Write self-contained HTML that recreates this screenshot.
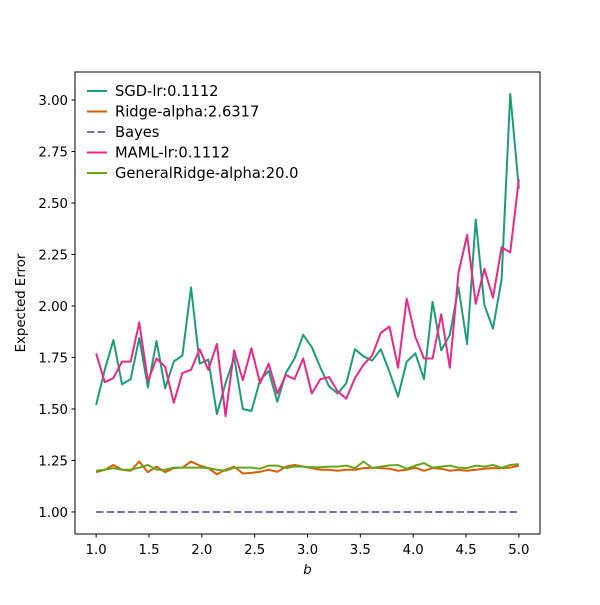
<!DOCTYPE html>
<html><head><meta charset="utf-8"><style>
body{margin:0;background:#fff}
svg text{font-family:"DejaVu Sans","Liberation Sans",sans-serif;font-size:13.3px;fill:#000}
svg text.lg{font-size:14.7px}
</style></head><body>
<svg width="600" height="600" xmlns="http://www.w3.org/2000/svg">
<rect x="0" y="0" width="600" height="600" fill="#fff"/>
<g id="plot"></g>
</svg>
<script>
const xTicks=[1.0,1.5,2.0,2.5,3.0,3.5,4.0,4.5,5.0];
const yTicks=[1.00,1.25,1.50,1.75,2.00,2.25,2.50,2.75,3.00];
const sgd=[1.52,1.69,1.835,1.62,1.645,1.845,1.605,1.83,1.60,1.73,1.76,2.09,1.72,1.74,1.475,1.625,1.75,1.50,1.49,1.64,1.685,1.535,1.675,1.745,1.86,1.80,1.70,1.61,1.575,1.625,1.79,1.755,1.735,1.79,1.68,1.56,1.73,1.77,1.645,2.02,1.785,1.86,2.09,1.815,2.42,2.005,1.89,2.13,3.03,2.57];
const ridge=[1.193,1.205,1.228,1.205,1.20,1.245,1.193,1.22,1.193,1.213,1.215,1.245,1.225,1.213,1.183,1.205,1.22,1.187,1.19,1.195,1.205,1.195,1.22,1.228,1.22,1.213,1.205,1.205,1.20,1.205,1.205,1.213,1.215,1.213,1.21,1.20,1.205,1.215,1.20,1.213,1.21,1.20,1.205,1.20,1.205,1.21,1.213,1.213,1.215,1.225];
const bayes=[1.0,1.0];
const maml=[1.77,1.63,1.65,1.73,1.73,1.92,1.635,1.745,1.705,1.53,1.675,1.69,1.79,1.69,1.815,1.465,1.785,1.64,1.795,1.625,1.72,1.575,1.665,1.645,1.745,1.575,1.645,1.655,1.585,1.55,1.65,1.715,1.76,1.87,1.90,1.70,2.035,1.85,1.745,1.745,1.96,1.70,2.16,2.345,2.01,2.18,2.04,2.285,2.26,2.615];
const gridge=[1.20,1.205,1.213,1.205,1.205,1.215,1.228,1.205,1.205,1.215,1.215,1.215,1.215,1.213,1.205,1.20,1.215,1.215,1.215,1.21,1.225,1.225,1.213,1.22,1.22,1.217,1.217,1.22,1.22,1.225,1.213,1.245,1.213,1.22,1.226,1.228,1.21,1.225,1.237,1.215,1.22,1.225,1.215,1.213,1.225,1.22,1.228,1.215,1.228,1.232];
const labels=["SGD-lr:0.1112","Ridge-alpha:2.6317","Bayes","MAML-lr:0.1112","GeneralRidge-alpha:20.0"];

const L=75,R=540,T=72,B=534;
const xMin=0.8,xMax=5.2,yMin=0.893,yMax=3.136;
const X=v=>L+(v-xMin)/(xMax-xMin)*(R-L);
const Y=v=>B-(v-yMin)/(yMax-yMin)*(B-T);
const NS="http://www.w3.org/2000/svg";
const g=document.getElementById('plot');
function mk(t,a,p){const e=document.createElementNS(NS,t);for(const k in a)e.setAttribute(k,a[k]);(p||g).appendChild(e);return e;}
const xs=n=>Array.from({length:n},(_,i)=>1+4*i/(n-1));

function series(vals,color,name,dash){
  const xv=xs(vals.length);
  const e=mk('polyline',{points:vals.map((v,i)=>X(xv[i]).toFixed(2)+','+Y(v).toFixed(2)).join(' '),fill:'none',stroke:color,'stroke-width':2,'stroke-linejoin':'round'});
  if(dash)e.setAttribute('stroke-dasharray',dash);
  
  
}
series(sgd,'#1b9e77','sgd-line');
series(ridge,'#d95f02','ridge-line');
series(bayes,'#7570b3','bayes-line','7.4,3.2');
series(maml,'#e7298a','maml-line');
series(gridge,'#66a61e','general-ridge-line');

const frame=mk('rect',{x:L,y:T,width:R-L,height:B-T,fill:'none',stroke:'#000','stroke-width':1});



xTicks.forEach(v=>{
  mk('line',{x1:X(v),x2:X(v),y1:B,y2:B+3.5,stroke:'#000'});
  const t=mk('text',{x:X(v),y:B+20,'text-anchor':'middle'});t.textContent=v.toFixed(1);
  
  
});
yTicks.forEach(v=>{
  mk('line',{x1:L-3.5,x2:L,y1:Y(v),y2:Y(v),stroke:'#000'});
  const t=mk('text',{x:L-7,y:Y(v)+5,'text-anchor':'end'});t.textContent=v.toFixed(2);
  
  
});
const xl=mk('text',{x:(L+R)/2,y:574,'text-anchor':'middle','font-style':'italic'});xl.textContent='b';


const yl=mk('text',{x:0,y:0,'text-anchor':'middle',transform:'translate(25,'+((T+B)/2)+') rotate(-90)'});yl.textContent='Expected Error';



const lg=mk('g',{});


const cols=['#1b9e77','#d95f02','#7570b3','#e7298a','#66a61e'];
labels.forEach((s,i)=>{
  const y=91+i*20.5;
  const ln=mk('line',{x1:87,x2:107,y1:y,y2:y,stroke:cols[i],'stroke-width':2},lg);
  if(i===2)ln.setAttribute('stroke-dasharray','7.4,3.2');
  const t=mk('text',{x:115,y:y+5,'class':'lg'},lg);t.textContent=s;
  
  
});
</script>
</body></html>
